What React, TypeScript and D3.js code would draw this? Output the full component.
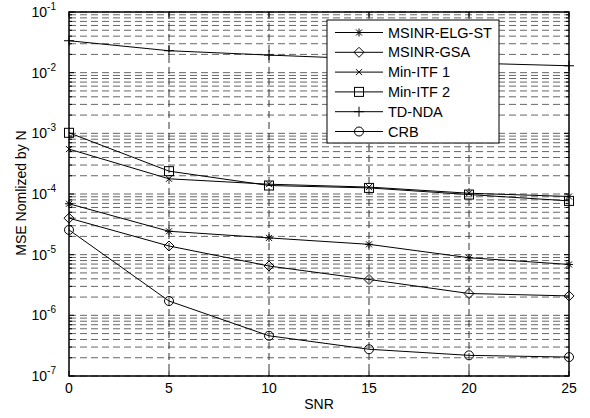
import React from 'react';
import * as d3 from 'd3';

// SNR points
const snr = [0, 5, 10, 15, 20, 25];

// MSE values
const msinrElgSt = [6.9e-5, 2.43e-5, 1.89e-5, 1.48e-5, 8.9e-6, 6.9e-6];
const msinrGsa = [4.0e-5, 1.39e-5, 6.5e-6, 3.9e-6, 2.29e-6, 2.09e-6];
const minItf1 = [5.5e-4, 1.78e-4, 1.45e-4, 1.3e-4, 1.03e-4, 9.1e-5];
const minItf2 = [1.02e-3, 2.38e-4, 1.38e-4, 1.26e-4, 9.8e-5, 7.7e-5];
const tdNda = [3.36e-2, 2.3e-2, 1.95e-2, 1.68e-2, 1.44e-2, 1.3e-2];
const crb = [2.56e-5, 1.72e-6, 4.6e-7, 2.76e-7, 2.19e-7, 2.05e-7];

const seriesNames = ['MSINR-ELG-ST', 'MSINR-GSA', 'Min-ITF 1', 'Min-ITF 2', 'TD-NDA', 'CRB'];
const markers = ['asterisk', 'diamond', 'cross', 'square', 'plus', 'circle'];
const seriesValues = [msinrElgSt, msinrGsa, minItf1, minItf2, tdNda, crb];

const xTicks = [0, 5, 10, 15, 20, 25];
const yExponents = [-1, -2, -3, -4, -5, -6, -7];

const width = 590;
const height = 418;
const margin = { top: 12, right: 21, bottom: 42, left: 69 };
const font = 'Liberation Sans, Arial, Helvetica, sans-serif';

function Marker({ type, x, y }: { type: string; x: number; y: number }) {
  const s = 4;
  const common = { stroke: '#000', strokeWidth: 1, fill: 'none' };
  switch (type) {
    case 'asterisk':
      return (
        <g {...common}>
          <line x1={x - s} y1={y} x2={x + s} y2={y} />
          <line x1={x} y1={y - s} x2={x} y2={y + s} />
          <line x1={x - 3} y1={y - 3} x2={x + 3} y2={y + 3} />
          <line x1={x - 3} y1={y + 3} x2={x + 3} y2={y - 3} />
        </g>
      );
    case 'diamond':
      return <path {...common} d={`M${x},${y - 5}L${x + 5},${y}L${x},${y + 5}L${x - 5},${y}Z`} />;
    case 'cross':
      return (
        <g {...common}>
          <line x1={x - 3} y1={y - 3} x2={x + 3} y2={y + 3} />
          <line x1={x - 3} y1={y + 3} x2={x + 3} y2={y - 3} />
        </g>
      );
    case 'square':
      return <rect {...common} x={x - 4.5} y={y - 4.5} width={9} height={9} />;
    case 'plus':
      return (
        <g {...common}>
          <line x1={x - 5} y1={y} x2={x + 5} y2={y} />
          <line x1={x} y1={y - 5} x2={x} y2={y + 5} />
        </g>
      );
    default:
      return <circle {...common} cx={x} cy={y} r={4.5} />;
  }
}

export default function App() {
  const x = d3.scaleLinear().domain([0, 25]).range([margin.left, width - margin.right]);
  const y = d3.scaleLog().domain([1e-7, 1e-1]).range([height - margin.bottom, margin.top]);

  const line = d3
    .line<number>()
    .x((_, i) => x(snr[i]))
    .y((d) => y(d));

  // all minor + major levels for the grid
  const gridLevels: number[] = [];
  for (let e = -7; e < -1; e++) {
    for (let m = 1; m <= 9; m++) gridLevels.push(m * Math.pow(10, e));
  }
  gridLevels.push(1e-1);

  const x0 = margin.left;
  const x1 = width - margin.right;
  const yTop = margin.top;
  const yBot = height - margin.bottom;

  const legend = { x: 327, y: 20, w: 172, h: 123, row: 19.8 };

  return (
    <svg width={width} height={height} style={{ position: 'absolute', left: 0, top: 0, background: '#fff' }}>
      <rect x={0} y={0} width={width} height={height} fill="#fff" />

      {/* grid */}
      <g stroke="#666" strokeWidth={1} strokeDasharray="7,4">
        {gridLevels.map((v, i) => (
          <line key={'h' + i} x1={x0} x2={x1} y1={y(v)} y2={y(v)} />
        ))}
        {xTicks.slice(1, -1).map((t) => (
          <line key={'v' + t} x1={x(t)} x2={x(t)} y1={yTop} y2={yBot} stroke="#333" />
        ))}
      </g>

      {/* ticks */}
      <g stroke="#000" strokeWidth={1}>
        {gridLevels.map((v, i) => {
          const len = Math.abs(Math.log10(v) - Math.round(Math.log10(v))) < 1e-9 ? 5 : 3;
          return (
            <g key={'t' + i}>
              <line x1={x0} x2={x0 + len} y1={y(v)} y2={y(v)} />
              <line x1={x1} x2={x1 - len} y1={y(v)} y2={y(v)} />
            </g>
          );
        })}
        {xTicks.map((t) => (
          <g key={'xt' + t}>
            <line x1={x(t)} x2={x(t)} y1={yBot} y2={yBot - 5} />
            <line x1={x(t)} x2={x(t)} y1={yTop} y2={yTop + 5} />
          </g>
        ))}
      </g>

      {/* series */}
      {seriesValues.map((vals, si) => (
        <g key={seriesNames[si]}>
          <path d={line(vals) || ''} fill="none" stroke="#000" strokeWidth={1} />
          {vals.map((v, i) => (
            <Marker key={i} type={markers[si]} x={x(snr[i])} y={y(v)} />
          ))}
        </g>
      ))}

      {/* axes box */}
      <rect x={x0} y={yTop} width={x1 - x0} height={yBot - yTop} fill="none" stroke="#000" strokeWidth={1.5} />

      {/* x tick labels */}
      <g fontFamily={font} fontSize={14} textAnchor="middle" fill="#000">
        {xTicks.map((t) => (
          <text key={t} x={x(t)} y={yBot + 17}>
            {t}
          </text>
        ))}
      </g>

      {/* y tick labels */}
      <g fontFamily={font} fill="#000">
        {yExponents.map((e) => (
          <text key={e} x={56} y={y(Math.pow(10, e)) + 5} fontSize={14} textAnchor="end">
            10
            <tspan dy={-7} fontSize={10}>
              {e}
            </tspan>
          </text>
        ))}
      </g>

      {/* axis labels */}
      <text x={(x0 + x1) / 2} y={409} fontFamily={font} fontSize={14} textAnchor="middle">
        SNR
      </text>
      <text
        transform={`translate(26,193) rotate(-90)`}
        fontFamily={font}
        fontSize={14}
        textAnchor="middle"
      >
        MSE Nomlized by N
      </text>

      {/* legend */}
      <g>
        <rect x={legend.x} y={legend.y} width={legend.w} height={legend.h} fill="#fff" stroke="#000" strokeWidth={1} />
        {seriesNames.map((name, i) => {
          const cy = legend.y + 12.5 + i * legend.row;
          return (
            <g key={name}>
              <line x1={legend.x + 8} x2={legend.x + 56} y1={cy} y2={cy} stroke="#000" strokeWidth={1} />
              <Marker type={markers[i]} x={legend.x + 32} y={cy} />
              <text x={legend.x + 61} y={cy + 5} fontFamily={font} fontSize={14.5} fill="#000">
                {name}
              </text>
            </g>
          );
        })}
      </g>
    </svg>
  );
}
